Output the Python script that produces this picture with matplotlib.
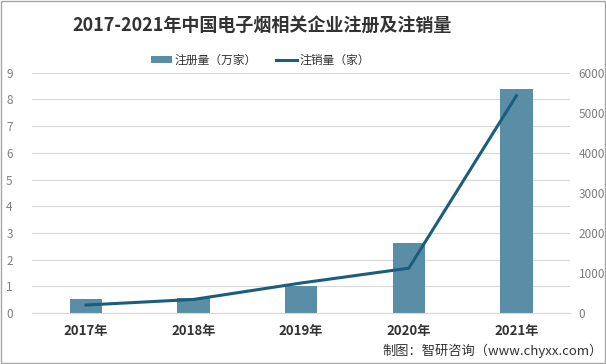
import matplotlib.pyplot as plt
import numpy as np

plt.rcParams['font.family'] = ['Noto Sans CJK SC', 'DejaVu Sans']

years = ['2017年', '2018年', '2019年', '2020年', '2021年']
registered = [0.53, 0.58, 1.0, 2.62, 8.4]      # 注册量（万家）
cancelled = [200, 340, 750, 1120, 5430]         # 注销量（家）

fig = plt.figure(figsize=(6.06, 3.64), dpi=100)
ax = fig.add_axes([0.053, 0.14, 0.888, 0.66])
ax2 = ax.twinx()

x = np.arange(len(years))
ax.bar(x, registered, width=0.3, color='#5a8ea6', zorder=2, label='注册量（万家）')
ax2.plot(x, cancelled, color='#1b5e7b', linewidth=2.2, zorder=3, label='注销量（家）')

ax.set_xlim(-0.5, len(years) - 0.5)
ax.set_ylim(0, 9)
ax.set_yticks(range(0, 10))
ax2.set_ylim(0, 6000)
ax2.set_yticks(range(0, 6001, 1000))
ax.grid(axis='y', color='#d9d9d9', linewidth=0.8, zorder=0)
ax.set_axisbelow(True)

for a in (ax, ax2):
    for s in a.spines.values():
        s.set_visible(False)
    a.tick_params(length=0, labelsize=8.5, labelcolor='#7f7f7f')
ax.spines['bottom'].set_visible(True)
ax.spines['bottom'].set_color('#d9d9d9')
ax.set_xticks(x)
ax.set_xticklabels(years, fontsize=9.5, fontweight='bold', color='#333333')
ax.tick_params(axis='x', pad=8)
ax.tick_params(axis='y', pad=14)
ax2.tick_params(axis='y', pad=6)

fig.text(0.433, 0.93, '2017-2021年中国电子烟相关企业注册及注销量', ha='center', va='center',
         fontsize=13, fontweight='bold', color='#333333')

h1, l1 = ax.get_legend_handles_labels()
h2, l2 = ax2.get_legend_handles_labels()
fig.legend(h1 + h2, l1 + l2, loc='center', bbox_to_anchor=(0.43, 0.835), ncol=2,
           frameon=False, fontsize=8.5, handlelength=1.8, handleheight=0.6,
           columnspacing=1.6, handletextpad=0.2, labelcolor='#333333')

fig.text(0.995, 0.035, '制图：智研咨询（www.chyxx.com）', ha='right', va='center',
         fontsize=9.5, color='#333333')

border = plt.Rectangle((0.002, 0.002), 0.996, 0.996, transform=fig.transFigure,
                       fill=False, edgecolor='#a6a6a6', linewidth=1)
fig.patches.append(border)

fig.savefig('out.png', dpi=100)
